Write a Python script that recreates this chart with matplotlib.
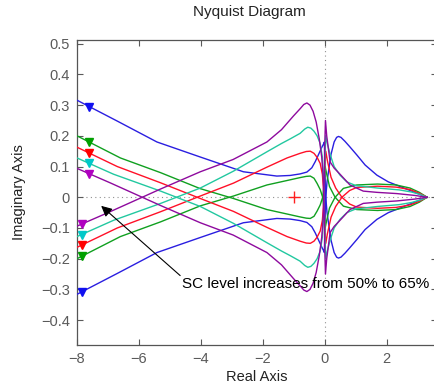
import numpy as np
import matplotlib
matplotlib.use("Agg")
import matplotlib.pyplot as plt

plt.rcParams['font.family'] = ['Liberation Sans', 'DejaVu Sans']

# ---- data: one branch (starting lower-left) of each Nyquist curve; the other is its mirror ----
blue_x = [-8, -6.7, -5.42, -4.02, -2.63, -1.55, -1.12, -0.8, -0.58, -0.42, -0.31, -0.2, -0.1, -0.04,
          -0.015, 0.0, 0.03, 0.07, 0.12, 0.2, 0.3, 0.38, 0.44, 0.52, 0.65, 0.8, 1.03, 1.3, 1.68, 2.05,
          2.43, 2.8, 3.1, 3.3]
blue_y = [-0.316, -0.248, -0.18, -0.131, -0.083, -0.069, -0.071, -0.076, -0.082, -0.096, -0.116, -0.14,
          -0.162, -0.174, -0.18, -0.1, 0.0, 0.05, 0.085, 0.14, 0.18, 0.195, 0.198, 0.195, 0.182, 0.165,
          0.138, 0.105, 0.072, 0.05, 0.035, 0.02, 0.008, 0.0]

green_x = [-8, -6.6, -5.3, -4.02, -2.95, -1.87, -1.2, -0.8, -0.6, -0.47, -0.35, -0.25, -0.15, -0.07,
           -0.02, 0.01, 0.05, 0.15, 0.33, 0.6, 1.03, 1.7, 2.3, 2.75, 3.05, 3.3]
green_y = [-0.2, -0.128, -0.08, -0.028, 0.004, 0.04, 0.055, 0.064, 0.068, 0.069, 0.062, 0.045, 0.025,
           0.0, -0.05, -0.1, -0.08, -0.035, 0.0, 0.029, 0.04, 0.043, 0.04, 0.03, 0.016, 0.0]

red_x = [-8, -6.7, -5.3, -4.02, -2.95, -1.87, -1.22, -0.8, -0.6, -0.47, -0.35, -0.25, -0.15, -0.08,
         -0.03, 0.0, 0.03, 0.08, 0.2, 0.35, 0.55, 0.8, 1.03, 1.7, 2.3, 2.75, 3.05, 3.3]
red_y = [-0.163, -0.1, -0.047, 0.004, 0.046, 0.098, 0.128, 0.143, 0.149, 0.15, 0.143, 0.13, 0.11, 0.075,
         0.01, -0.1, -0.15, -0.12, -0.065, -0.03, 0.0, 0.022, 0.032, 0.036, 0.033, 0.025, 0.013, 0.0]

teal_x = [-8, -6.82, -5.3, -4.02, -2.95, -1.87, -1.4, -1.12, -0.8, -0.65, -0.55, -0.45, -0.35, -0.25,
          -0.15, -0.08, -0.03, 0.0, 0.03, 0.08, 0.17, 0.3, 0.49, 0.71, 1.0, 1.7, 2.4, 2.8, 3.08, 3.3]
teal_y = [-0.128, -0.075, -0.02, 0.03, 0.085, 0.148, 0.175, 0.19, 0.208, 0.222, 0.228, 0.225, 0.215,
          0.2, 0.175, 0.13, 0.04, -0.12, -0.2, -0.175, -0.14, -0.1, -0.072, -0.05, -0.038, -0.03,
          -0.024, -0.017, -0.009, 0.0]

purple_x = [-8, -6.93, -5.3, -4.02, -2.96, -1.87, -1.4, -1.01, -0.8, -0.68, -0.58, -0.48, -0.38, -0.28,
            -0.18, -0.1, -0.05, -0.02, 0.0, 0.02, 0.06, 0.17, 0.3, 0.49, 0.81, 1.24, 1.68, 2.32, 2.9, 3.3]
purple_y = [-0.094, -0.047, 0.027, 0.083, 0.123, 0.18, 0.22, 0.265, 0.288, 0.302, 0.307, 0.3, 0.28,
            0.245, 0.19, 0.13, 0.06, -0.05, -0.18, -0.25, -0.2, -0.115, -0.095, -0.075, -0.04, -0.02,
            -0.016, -0.012, -0.006, 0.0]

series = [
    (blue_x, blue_y, '#2a1ee0', '#1010f0'),
    (green_x, green_y, '#10a020', '#00a000'),
    (red_x, red_y, '#ff1028', '#ff0000'),
    (teal_x, teal_y, '#22c8a0', '#00c8c8'),
    (purple_x, purple_y, '#8e0a9e', '#b000c0'),
]

x_ticks = [-8, -6, -4, -2, 0, 2]
x_ticklabels = ['\u22128', '\u22126', '\u22124', '\u22122', '0', '2']
y_ticks = [-0.4, -0.3, -0.2, -0.1, 0, 0.1, 0.2, 0.3, 0.4, 0.5]
y_ticklabels = ['\u22120.4', '\u22120.3', '\u22120.2', '\u22120.1', '0', '0.1', '0.2', '0.3', '0.4', '0.5']

critical_point = (-1, 0)
annotation_text = 'SC level increases from 50% to 65%'

# ---- figure ----
fig = plt.figure(figsize=(4.35, 3.9), dpi=100)
ax = fig.add_axes([77 / 435, 45 / 390, (437 - 77) / 435, (345 - 40) / 390])

ax.set_xlim(-8, 3.62)
ax.set_ylim(-0.481, 0.512)

# zero lines
ax.axhline(0, color='#909090', lw=0.8, ls=(0, (1, 3)), zorder=1)
ax.axvline(0, color='#909090', lw=0.8, ls=(0, (1, 3)), zorder=1)

for xs, ys, lc, mc in series:
    xs = np.asarray(xs, float)
    ys = np.asarray(ys, float)
    ax.plot(xs, ys, color=lc, lw=1.0, zorder=3)
    ax.plot(xs, -ys, color=lc, lw=1.0, zorder=3)
    # direction arrows
    yl = np.interp(-7.85, xs, ys)
    yu = -np.interp(-7.6, xs, ys)
    ax.plot([-7.85], [yl], marker='v', ms=6, color=mc, mec=mc, zorder=4, clip_on=False)
    ax.plot([-7.6], [yu], marker='v', ms=6, color=mc, mec=mc, zorder=4, clip_on=False)

ax.plot([critical_point[0]], [critical_point[1]], marker='+', ms=8, mew=1.0, color='#ff2020', zorder=4)

ax.annotate('', xy=(-7.22, -0.028), xytext=(-4.67, -0.255),
            arrowprops=dict(arrowstyle='-|>', color='k', lw=0.8, mutation_scale=16,
                            shrinkA=0, shrinkB=0), zorder=5)
ax.text(-4.62, -0.284, annotation_text, fontsize=11, ha='left', va='center', color='k', zorder=5)

ax.set_xticks(x_ticks)
ax.set_xticklabels(x_ticklabels)
ax.set_yticks(y_ticks)
ax.set_yticklabels(y_ticklabels)
ax.tick_params(direction='in', length=4, width=0.8, colors='#5a5a5a', labelsize=10.5,
               top=True, right=True, pad=5)
for sp in ax.spines.values():
    sp.set_color('#555555')
    sp.set_linewidth(0.9)

ax.set_title('Nyquist Diagram', fontsize=11, color='#222222', pad=17, x=(249.5 - 77) / 360)
ax.set_xlabel('Real Axis', fontsize=10.5, color='#222222', labelpad=3)
ax.set_ylabel('Imaginary Axis', fontsize=10.5, color='#222222', labelpad=11)

fig.savefig('out.png', dpi=100)
